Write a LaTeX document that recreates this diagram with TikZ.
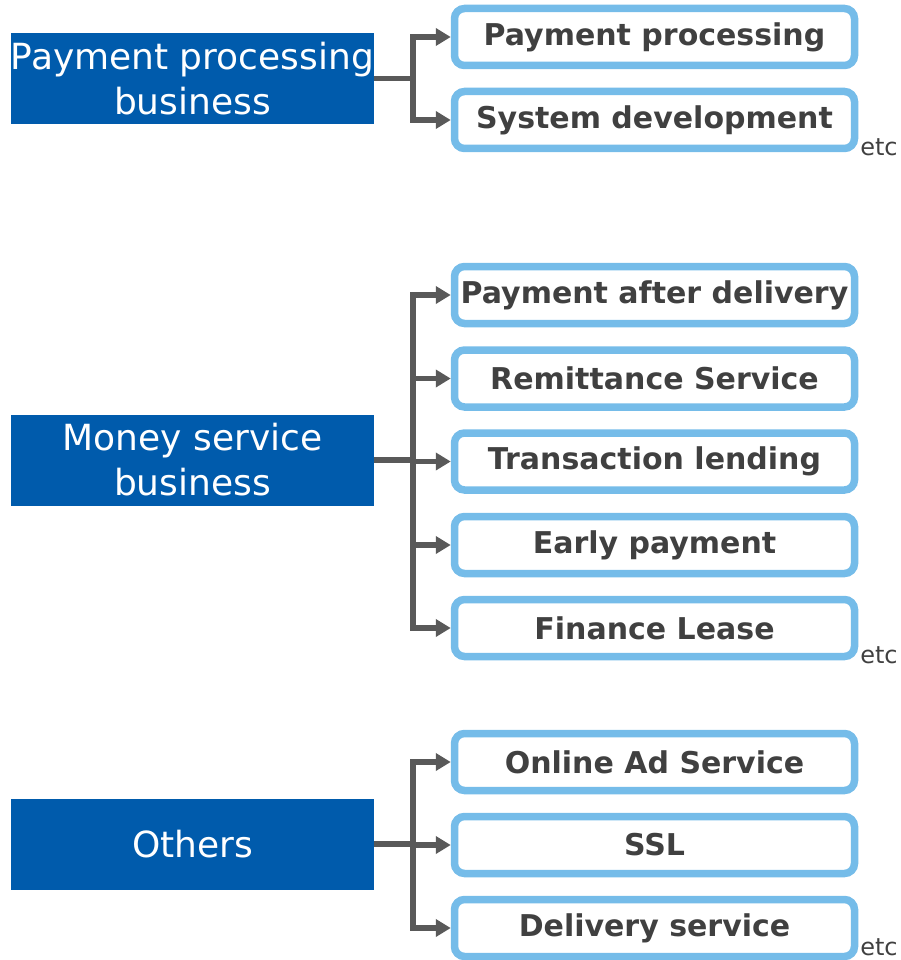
\documentclass[tikz,border=0pt]{standalone}
\usepackage{fontspec}
\setmainfont{DejaVu Sans}
\usetikzlibrary{arrows.meta}
\definecolor{bizblue}{HTML}{005BAC}
\definecolor{itemedge}{HTML}{75BCE9}
\definecolor{linkgray}{HTML}{595959}
\definecolor{textgray}{HTML}{404040}
\begin{document}
\begin{tikzpicture}[x=1pt,y=-1pt,
  business/.style={fill=bizblue, text=white, minimum width=363pt, minimum height=91pt,
    inner sep=0pt, outer sep=0pt, align=center, font=\fontsize{36}{45}\selectfont},
  item/.style={draw=itemedge, line width=7.5pt, rounded corners=10pt, fill=white,
    minimum width=400pt, minimum height=57pt, inner sep=0pt, text=textgray,
    font=\fontsize{30}{34}\selectfont\bfseries},
  link/.style={draw=linkgray, line width=5.5pt},
  arrowlink/.style={link, -{Triangle[length=15pt,width=17pt]}},
  etcnote/.style={text=textgray, font=\fontsize{24}{26}\selectfont, inner sep=0pt}]
\useasboundingbox (0,0) rectangle (901,960);

% business areas
\node[business] (pp) at (192.5,78.5) {Payment processing\\business};
\node[business] (ms) at (192.5,460) {Money service\\business};
\node[business] (ot) at (192.5,844) {Others};

% services of each area
\node[item] (pp1) at (654.5,37) {Payment processing};
\node[item] (pp2) at (654.5,120) {System development};

\node[item] (ms1) at (654.5,295) {Payment after delivery};
\node[item] (ms2) at (654.5,378.5) {Remittance Service};
\node[item] (ms3) at (654.5,461.5) {Transaction lending};
\node[item] (ms4) at (654.5,545) {Early payment};
\node[item] (ms5) at (654.5,628) {Finance Lease};

\node[item] (ot1) at (654.5,762) {Online Ad Service};
\node[item] (ot2) at (654.5,845) {SSL};
\node[item] (ot3) at (654.5,928) {Delivery service};

\node[etcnote] (etc1) at (879,147) {etc};
\node[etcnote] (etc2) at (879,655) {etc};
\node[etcnote] (etc3) at (879,947) {etc};

% branch points
\coordinate (jp) at (413,78.5);
\coordinate (jm) at (413,460);
\coordinate (jo) at (413,844);

\draw[link] (pp.east) -- (jp);
\foreach \c in {pp1,pp2} \draw[arrowlink] (jp) |- (\c.west);

\draw[link] (ms.east) -- (jm);
\foreach \c in {ms1,ms2,ms3,ms4,ms5} \draw[arrowlink] (jm) |- (\c.west);

\draw[link] (ot.east) -- (jo);
\foreach \c in {ot1,ot2,ot3} \draw[arrowlink] (jo) |- (\c.west);
\end{tikzpicture}
\end{document}
